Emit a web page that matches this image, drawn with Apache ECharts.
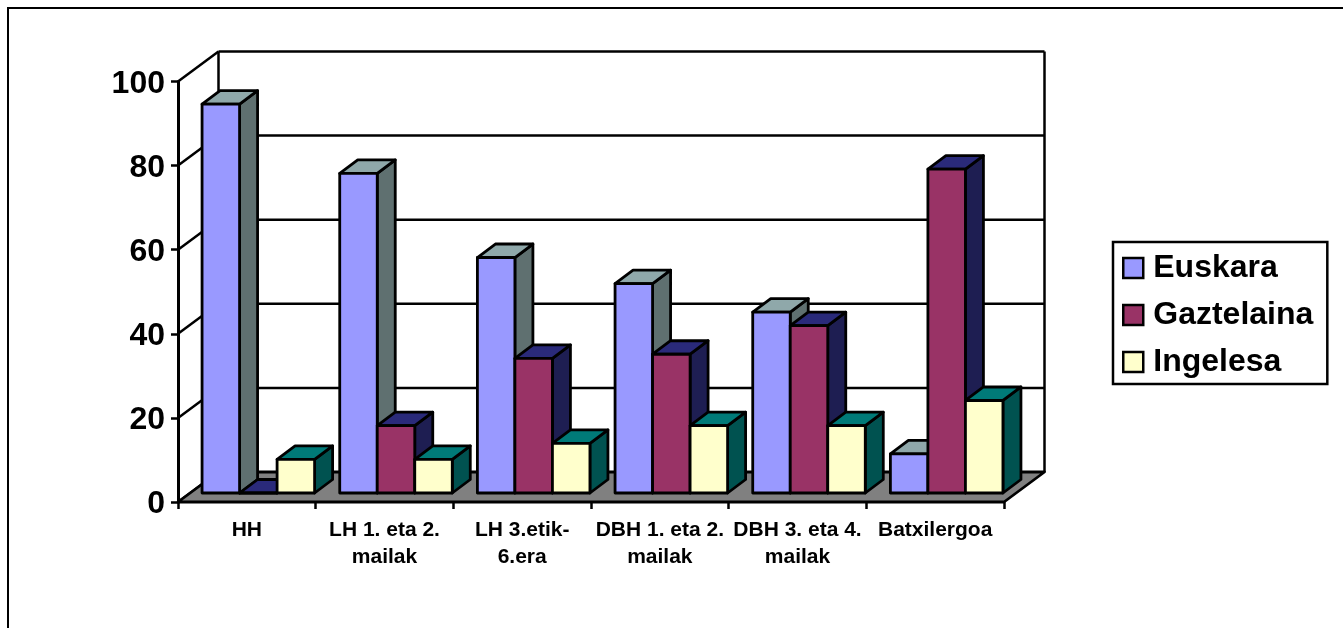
<!DOCTYPE html>
<html><head><meta charset="utf-8">
<style>html,body{margin:0;padding:0;background:#fff}#c{width:1343px;height:628px}</style>
<script src="https://cdn.jsdelivr.net/npm/echarts@6/dist/echarts.min.js"></script>
</head><body><div id="c"></div>
<script>
var categories = ['HH','LH 1. eta 2.\nmailak','LH 3.etik-\n6.era','DBH 1. eta 2.\nmailak','DBH 3. eta 4.\nmailak','Batxilergoa'];
var euskara = [92.5,76,56,49.8,43,9.3];
var gaztelaina = [0,16,32,33,39.8,77];
var ingelesa = [8,8,11.8,16,16,22];
var yTicks = [0,20,40,60,80,100];

var FONT = '"Liberation Sans", Arial, sans-serif';
var BACK = [40.5,-30], NEAR = [11.5,-9], D = [18,-13.5];
var palette = [
 {name:'Euskara', data:euskara, front:'#9999FF', top:'#8FA8AA', side:'#5F7070'},
 {name:'Gaztelaina', data:gaztelaina, front:'#993366', top:'#2A2A7A', side:'#1E1E52'},
 {name:'Ingelesa', data:ingelesa, front:'#FFFFCC', top:'#007A78', side:'#005250'}
];
var LINE = {stroke:'#000', lineWidth:2.5, lineJoin:'round'};

function poly(points, fill){
  return {type:'polygon', shape:{points:points}, style:{fill:fill, stroke:'#000', lineWidth:2.8, lineJoin:'round'}};
}
function seg(a,b){
  return {type:'line', shape:{x1:a[0],y1:a[1],x2:b[0],y2:b[1]}, style:LINE};
}
function renderWalls(params, api){
  if (params.dataIndex !== 0) return {type:'group', children:[]};
  var n = categories.length;
  var ch = [];
  var l0 = api.coord([0,0]), band = api.size([1,0])[0];
  var x0 = l0[0]-band/2, x1 = x0 + band*n;
  var y0 = l0[1], y100 = api.coord([0,100])[1];
  ch.push({type:'polygon', shape:{points:[[x0+BACK[0],y100+BACK[1]],[x1+BACK[0],y100+BACK[1]],[x1+BACK[0],y0+BACK[1]],[x0+BACK[0],y0+BACK[1]]]}, style:{fill:'#fff'}});
  yTicks.forEach(function(t){
    var y = api.coord([0,t])[1];
    if (t>0) ch.push(seg([x0+BACK[0],y+BACK[1]],[x1+BACK[0],y+BACK[1]]));
    ch.push(seg([x0,y],[x0+BACK[0],y+BACK[1]]));
  });
  ch.push(seg([x0+BACK[0],y100+BACK[1]],[x0+BACK[0],y0+BACK[1]]));
  ch.push(seg([x1+BACK[0],y100+BACK[1]],[x1+BACK[0],y0+BACK[1]]));
  ch.push(poly([[x0,y0],[x1,y0],[x1+BACK[0],y0+BACK[1]],[x0+BACK[0],y0+BACK[1]]],'#808080'));
  return {type:'group', children:ch};
}
function barRenderer(si){
  var p = palette[si];
  return function(params, api){
    var i = api.value(0), v = api.value(1);
    var band = api.size([1,0])[0];
    var base = api.coord([i,0]), topPt = api.coord([i,v]);
    var w = band*0.2725;
    var left = base[0]-band/2 + NEAR[0] + (band-3*w)/2 + si*w;
    var yb = base[1]+NEAR[1], yt = topPt[1]+NEAR[1], r = left+w;
    return {type:'group', children:[
      poly([[r,yb],[r+D[0],yb+D[1]],[r+D[0],yt+D[1]],[r,yt]], p.side),
      poly([[left,yt],[r,yt],[r+D[0],yt+D[1]],[left+D[0],yt+D[1]]], p.top),
      poly([[left,yb],[r,yb],[r,yt],[left,yt]], p.front)
    ]};
  };
}
var series = [{
  type:'custom', silent:true, legendHoverLink:false, z:1,
  renderItem:renderWalls, data:[[0,0]], encode:{x:0,y:1}, clip:false
}];
palette.forEach(function(p,si){
  series.push({
    type:'custom', name:p.name, z:2+si, clip:false,
    itemStyle:{color:p.front, borderColor:'#000', borderWidth:2},
    renderItem:barRenderer(si),
    data:p.data.map(function(v,i){return [i,v];}),
    encode:{x:0,y:1}
  });
});
var chart = echarts.init(document.getElementById('c'), null, {renderer:'canvas'});
chart.setOption({
  animation:false,
  backgroundColor:'#fff',
  grid:{left:178, right:339, top:81.5, bottom:126},
  graphic:[{type:'rect', z:0, shape:{x:8,y:8,width:1400,height:700}, style:{fill:'#fff',stroke:'#000',lineWidth:2}}],
  xAxis:{type:'category', data:categories,
    axisLine:{show:false},
    axisTick:{show:true, alignWithLabel:false, length:7, lineStyle:{color:'#000',width:2.5}},
    axisLabel:{interval:0, color:'#000', fontFamily:FONT, fontWeight:'bold', fontSize:21, lineHeight:27, margin:15, hideOverlap:false},
    z:5},
  yAxis:{type:'value', min:0, max:100, interval:20,
    axisLine:{show:true, lineStyle:{color:'#000',width:3}},
    axisTick:{show:true, length:7, lineStyle:{color:'#000',width:2.5}},
    splitLine:{show:false},
    axisLabel:{color:'#000', margin:13, formatter:'{n|{value}}',
      rich:{n:{color:'#000', fontFamily:FONT, fontWeight:'bold', fontSize:32, padding:[5,0,0,0]}}},
    z:5},
  legend:{show:true, left:1113, top:242, orient:'vertical', padding:[8,14,4,9], itemGap:11,
    borderColor:'#000', borderWidth:2.5, backgroundColor:'#fff',
    itemWidth:20, itemHeight:20, icon:'rect',
    itemStyle:{borderColor:'#000',borderWidth:2.5},
    textStyle:{color:'#000', fontFamily:FONT, fontWeight:'bold', fontSize:32, lineHeight:34, padding:[2,0,0,5]},
    data:palette.map(function(p){return p.name;})},
  series:series
});
</script></body></html>
